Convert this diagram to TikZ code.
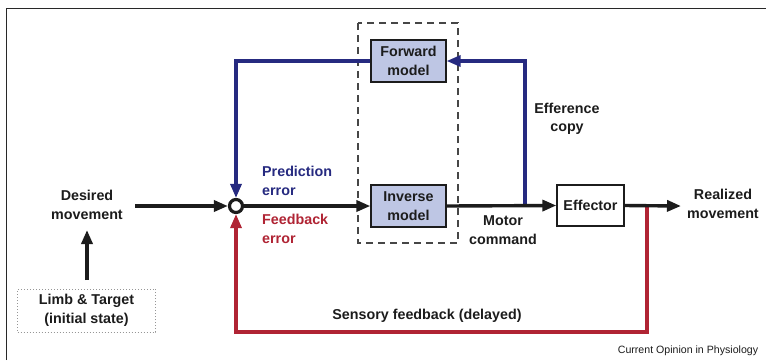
\documentclass[tikz,border=0pt]{standalone}
\usepackage{fontspec}
\setmainfont{Liberation Sans}
\usetikzlibrary{arrows.meta}
\definecolor{ink}{RGB}{28,28,28}
\definecolor{fwdblue}{RGB}{38,42,128}
\definecolor{fbred}{RGB}{176,36,52}
\definecolor{modelfill}{RGB}{190,198,228}
\definecolor{framegray}{RGB}{40,40,40}
\definecolor{dashgray}{RGB}{70,70,70}
\definecolor{dotgray}{RGB}{150,150,150}
\begin{document}
\begin{tikzpicture}[x=1pt,y=-1pt,
  lbl/.style={font=\fontsize{14.3}{18.5}\selectfont\bfseries, text=ink, align=center, inner sep=0pt},
  model/.style={lbl, draw=ink, line width=1.3pt, fill=modelfill, minimum width=75pt, minimum height=42pt},
  plainbox/.style={lbl, draw=ink, line width=1.3pt, fill=white, minimum width=67pt, minimum height=41pt},
  tip/.style={-{Triangle[length=14pt,width=11pt]}},
  flow/.style={tip, line width=3.4pt, draw=ink},
  predline/.style={tip, line width=3.2pt, draw=fwdblue},
  fbline/.style={tip, line width=3.2pt, draw=fbred},
  sumnode/.style={circle, draw=ink, fill=white, line width=3.2pt, minimum size=13pt, inner sep=0pt},
]
% canvas and frame
\useasboundingbox (0,0) rectangle (766,360);
\fill[white] (0,0) rectangle (766,360);
\draw[framegray, line width=1.3pt] (6.5,360) -- (6.5,8.5) -- (766,8.5);

% dashed enclosure of the internal models
\draw[dashgray, line width=1.4pt, dash pattern=on 7pt off 5pt] (358,23) rectangle (458,243);

% blocks
\node[model] (fwd) at (408.5,61) {Forward\\model};
\node[model] (inv) at (408.5,206) {Inverse\\model};
\node[plainbox] (eff) at (590.5,205.5) {Effector};
\node[sumnode] (sum) at (236,206) {};
\node[lbl, draw=dotgray, line width=1pt, dotted, minimum width=138pt, minimum height=43pt, fill=white] (limb) at (86.5,310.5) {Limb \& Target\\(initial state)};

% labels
\node[lbl] (desired) at (87,205) {Desired\\movement};
\node[lbl] (realized) at (723,204) {Realized\\movement};
\node[lbl, text=fwdblue, align=left, anchor=west] (prederr) at (262,181) {Prediction\\error};
\node[lbl, text=fbred, align=left, anchor=west] (fberr) at (262,229) {Feedback\\error};
\node[lbl] (motor) at (503,230) {Motor\\command};
\node[lbl] (effcopy) at (567,119) {Efference\\copy};
\node[lbl] (sensory) at (427,316) {Sensory feedback (delayed)};
\node[font=\fontsize{10.6}{12}\selectfont, text=ink, inner sep=0pt] (credit) at (688,351) {Current Opinion in Physiology};

% connector end points
\coordinate (din) at (135,206);
\coordinate (limbout) at (87,280);
\coordinate (desin) at (87,230);
\coordinate (effcopytap) at (525,206);
\coordinate (fbtap) at (647,206);
\coordinate (fbcorner) at (647,332);
\coordinate (outtip) at (681,206);

% feedback loops (drawn first so the main line sits on top)
\draw[fbline] (fbtap) -- (fbcorner) -| (sum.south);
\draw[predline] (effcopytap) |- (fwd.east);
\draw[predline] (fwd.west) -| (sum.north);

% main forward path
\draw[flow] (limbout) -- (desin);
\draw[flow] (din) -- (sum.west);
\draw[flow] (sum.east) -- (inv.west);
\draw[flow] (inv.east) -- (eff.west);
\draw[flow] (eff.east) -- (outtip);
\end{tikzpicture}
\end{document}
